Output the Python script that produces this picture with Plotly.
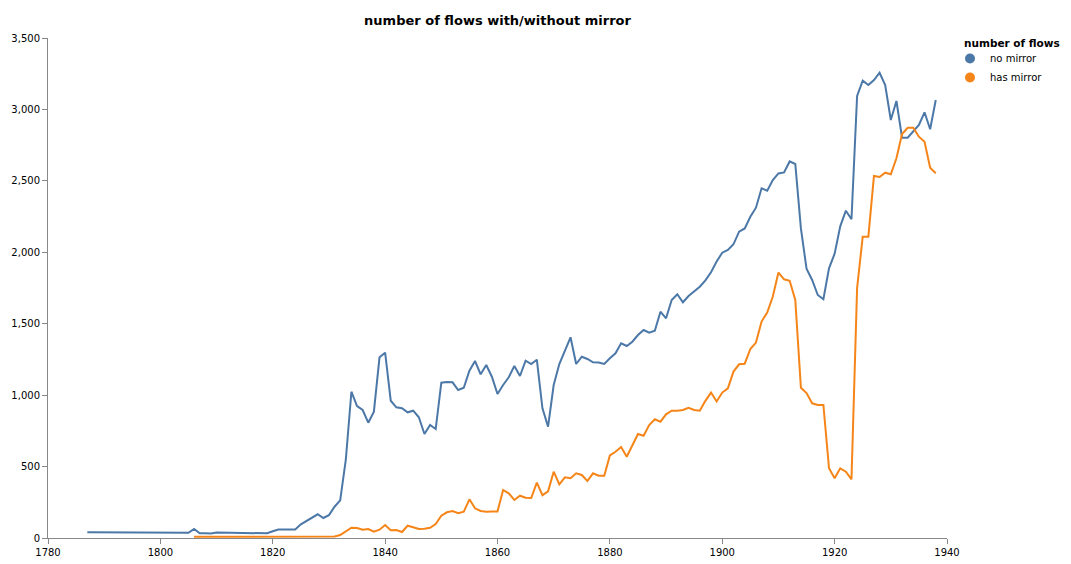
import plotly.graph_objects as go

# years covered by each series
years_no_mirror = list(range(1787, 1939))
years_has_mirror = list(range(1806, 1939))

no_mirror = [
    40, 40, 40, 40, 40, 40, 40, 38, 38, 36, 36, 36, 36, 36, 38, 37, 36, 36, 36,  # 1787-1805
    63, 33, 33, 32, 38, 37, 37, 37, 35, 35, 35, 35, 33, 33,                      # 1806-1819
    47, 60, 60, 60, 60, 96, 121, 140, 166, 140,                                  # 1820-1829
    160, 219, 263, 546, 1024, 924, 896, 807, 884, 1265,                          # 1830-1839
    1297, 961, 915, 908, 880, 891, 845, 728, 791, 763,                           # 1840-1849
    1087, 1092, 1090, 1036, 1052, 1171, 1239, 1146, 1211, 1129,                  # 1850-1859
    1008, 1071, 1125, 1204, 1134, 1241, 1218, 1248, 908, 779,                    # 1860-1869
    1071, 1218, 1316, 1405, 1218, 1269, 1253, 1230, 1228, 1218,                  # 1870-1879
    1258, 1293, 1363, 1344, 1374, 1421, 1456, 1437, 1451, 1584,                  # 1880-1889
    1538, 1666, 1706, 1650, 1694, 1724, 1759, 1803, 1860, 1935,                  # 1890-1899
    1997, 2016, 2056, 2144, 2167, 2249, 2312, 2448, 2431, 2506,                  # 1900-1909
    2552, 2559, 2636, 2618, 2167, 1885, 1806, 1701, 1671, 1888,                  # 1910-1919
    1990, 2182, 2291, 2231, 3094, 3201, 3171, 3206, 3257, 3171,                  # 1920-1929
    2926, 3059, 2802, 2802, 2844, 2891, 2980, 2861, 3066,                        # 1930-1938
]

has_mirror = [
    8, 8, 8, 8, 8, 8, 8, 7, 7, 7, 7, 6, 6, 6, 6, 6, 5, 5, 5, 5, 5, 5, 5, 5,      # 1806-1829
    5, 10, 21, 44, 72, 70, 58, 63, 44, 58,                                       # 1830-1839
    91, 54, 56, 42, 86, 75, 63, 65, 72, 98,                                      # 1840-1849
    156, 180, 189, 173, 184, 271, 208, 189, 184, 186,                            # 1850-1859
    186, 336, 313, 266, 296, 282, 280, 387, 300, 327,                            # 1860-1869
    464, 376, 425, 418, 453, 441, 399, 453, 436, 436,                            # 1870-1879
    578, 604, 637, 569, 651, 728, 716, 791, 831, 814,                            # 1880-1889
    866, 891, 891, 896, 912, 896, 891, 960, 1018, 956,                           # 1890-1899
    1018, 1048, 1165, 1216, 1220, 1323, 1368, 1515, 1578, 1690,                  # 1900-1909
    1858, 1811, 1801, 1666, 1052, 1015, 943, 931, 931, 488,                      # 1910-1919
    418, 488, 464, 411, 1750, 2109, 2109, 2534, 2527, 2557,                      # 1920-1929
    2546, 2658, 2828, 2872, 2872, 2809, 2774, 2592, 2553,                        # 1930-1938
]

series = ['no mirror', 'has mirror']
colors = ['#4c78a8', '#f58518']

fig = go.Figure()

for name, xs, ys, c in zip(series, [years_no_mirror, years_has_mirror],
                           [no_mirror, has_mirror], colors):
    fig.add_trace(go.Scatter(
        x=xs, y=ys, mode='lines', name=name,
        line=dict(color=c, width=2),
        showlegend=False,
    ))

# legend entries drawn as filled circles (vega style)
for name, c in zip(series, colors):
    fig.add_trace(go.Scatter(
        x=[None], y=[None], mode='markers', name=name,
        marker=dict(color=c, size=10, symbol='circle'),
    ))

axis_style = dict(
    showgrid=False, zeroline=False, automargin=False,
    showline=True, linecolor='#888', linewidth=1,
    ticks='outside', tickcolor='#888', ticklen=5, tickwidth=1,
    tickfont=dict(size=10, color='#000'),
)

# the page body adds an 8px offset, so the figure is 8px smaller
W, H = 1063, 556

fig.update_layout(
    width=W, height=H,
    margin=dict(l=39.5, r=123.5, t=30, b=26),
    plot_bgcolor='white', paper_bgcolor='white',
    font=dict(family='DejaVu Sans', color='#000'),
    title=dict(
        text='<b>number of flows with/without mirror</b>',
        font=dict(size=13),
        x=0.5, xref='paper', xanchor='center',
        y=1 - 12 / H, yref='container', yanchor='middle',
    ),
    xaxis=dict(range=[1780, 1940], dtick=20, tickformat='d', **axis_style),
    yaxis=dict(range=[0, 3500], dtick=500, tickformat=',', **axis_style),
    legend=dict(
        font=dict(size=10),
        xref='container', yref='container',
        x=942 / W, xanchor='left', y=1 - 36 / H, yanchor='top',
        tracegroupgap=0, itemwidth=30,
    ),
    annotations=[dict(
        text='<b>number of flows</b>', font=dict(size=10.5),
        xref='paper', yref='paper', x=(955 - 39.5) / 900, y=1 - 5 / 500,
        xanchor='left', yanchor='middle', showarrow=False,
    )],
)

fig.write_html("out.html")
